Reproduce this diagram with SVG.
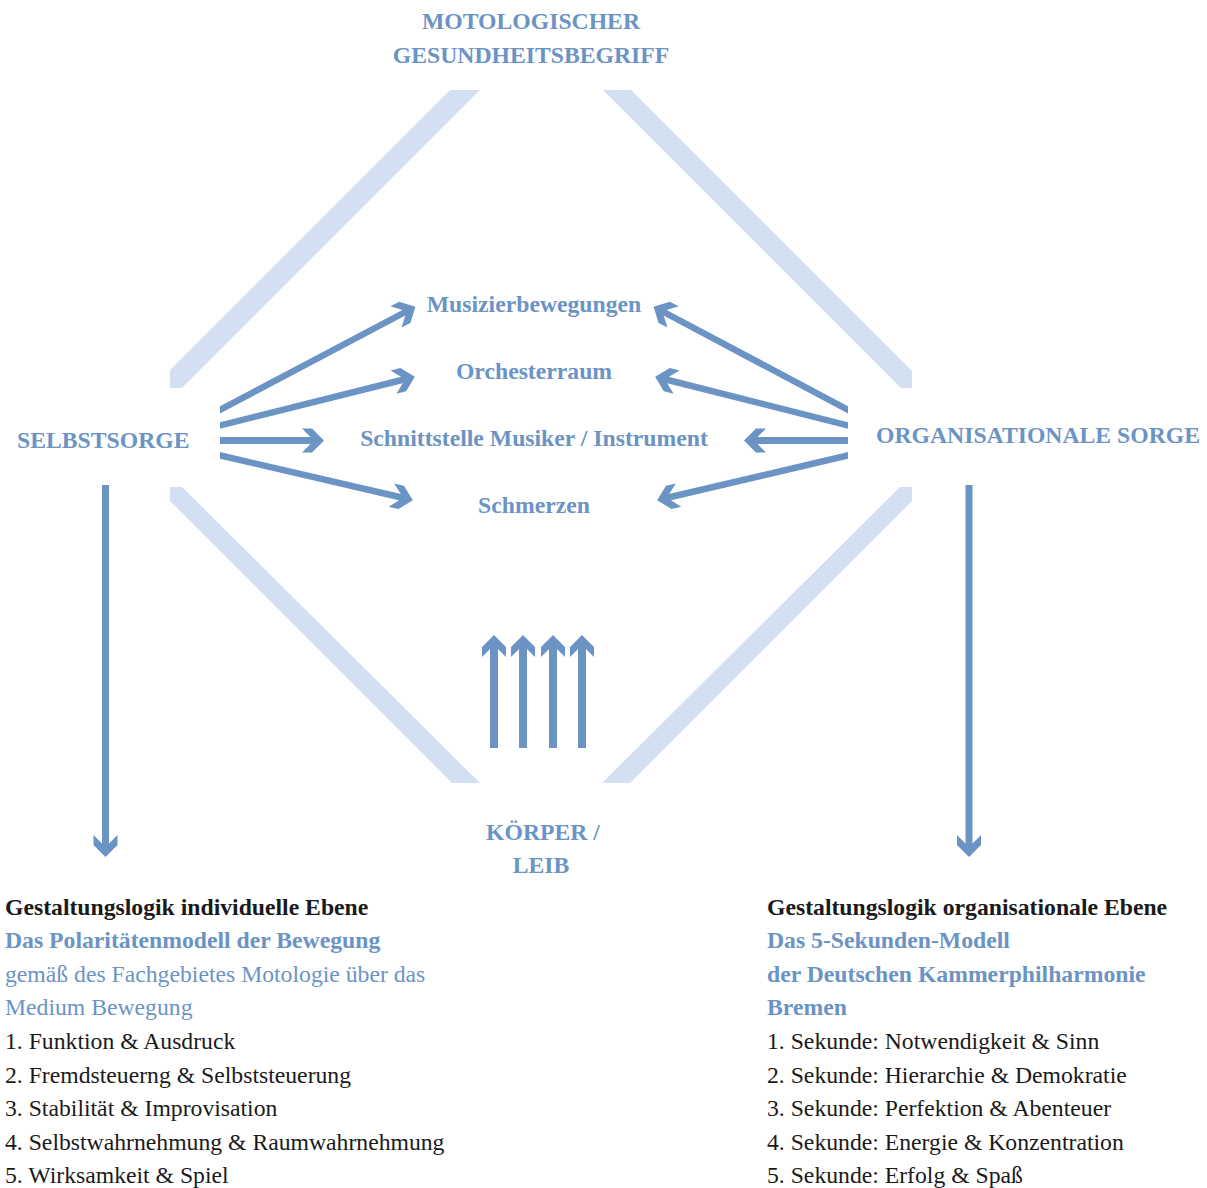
<svg xmlns="http://www.w3.org/2000/svg" width="1207" height="1188" viewBox="0 0 1207 1188">
  <style>
    text { font-family: "Liberation Serif", "Times New Roman", serif; font-size: 23.7px; }
    .head { fill: #6b93c4; font-weight: bold; }
    .blue { fill: #6b93c4; }
    .dark { fill: #1a1a1a; }
    .bold { font-weight: bold; }
    .band { fill: #d2e0f1; }
    .shaft { stroke: #6b93c4; fill: none; stroke-linecap: butt; }
  </style>
  <defs>
    <!-- barbed chevron arrowhead, tip placed slightly ahead of the shaft end -->
    <marker id="chev" markerUnits="userSpaceOnUse" viewBox="-25 -14 32 28" refX="0" refY="0" markerWidth="32" markerHeight="28" orient="auto" overflow="visible">
      <path d="M5,0 L-7,-12 L-17,-12 L-5,0 L-17,12 L-7,12 Z" fill="#6b93c4"/>
    </marker>
    <clipPath id="clipL"><rect x="220" y="0" width="987" height="1188"/></clipPath>
    <clipPath id="clipR"><rect x="0" y="0" width="848" height="1188"/></clipPath>
  </defs>

  <!-- light diamond frame -->
  <g id="frame">
    <polygon class="band" points="450,90 480,90 182,388 170,388 170,370"/>
    <polygon class="band" points="603,90 631,90 912,371 912,388 901,388"/>
    <polygon class="band" points="170,487 182,487 480,783 452,783 170,501"/>
    <polygon class="band" points="912,487 900,487 602,783 630,783 912,501"/>
  </g>

  <!-- nodes -->
  <g id="node-gesundheit">
    <text class="head" x="531" y="29" text-anchor="middle">MOTOLOGISCHER</text>
    <text class="head" x="531" y="63" text-anchor="middle">GESUNDHEITSBEGRIFF</text>
  </g>
  <g id="node-selbstsorge">
    <text class="head" x="17" y="448">SELBSTSORGE</text>
  </g>
  <g id="node-orgsorge">
    <text class="head" x="876" y="443">ORGANISATIONALE SORGE</text>
  </g>
  <g id="node-koerper">
    <text class="head" x="543" y="840" text-anchor="middle">KÖRPER /</text>
    <text class="head" x="541" y="873" text-anchor="middle">LEIB</text>
  </g>
  <g id="node-musizier">
    <text class="head" x="534" y="312" text-anchor="middle">Musizierbewegungen</text>
  </g>
  <g id="node-orchester">
    <text class="head" x="534" y="379" text-anchor="middle">Orchesterraum</text>
  </g>
  <g id="node-schnittstelle">
    <text class="head" x="534" y="446" text-anchor="middle">Schnittstelle Musiker / Instrument</text>
  </g>
  <g id="node-schmerzen">
    <text class="head" x="534" y="513" text-anchor="middle">Schmerzen</text>
  </g>

  <g id="node-individuell">
    <text class="dark bold" x="5" y="915">Gestaltungslogik individuelle Ebene</text>
    <text class="blue bold" x="5" y="948">Das Polaritätenmodell der Bewegung</text>
    <text class="blue" x="5" y="982">gemäß des Fachgebietes Motologie über das</text>
    <text class="blue" x="5" y="1015">Medium Bewegung</text>
    <text class="dark" x="5" y="1049">1. Funktion &amp; Ausdruck</text>
    <text class="dark" x="5" y="1083">2. Fremdsteuerng &amp; Selbststeuerung</text>
    <text class="dark" x="5" y="1116">3. Stabilität &amp; Improvisation</text>
    <text class="dark" x="5" y="1150">4. Selbstwahrnehmung &amp; Raumwahrnehmung</text>
    <text class="dark" x="5" y="1183">5. Wirksamkeit &amp; Spiel</text>
  </g>
  <g id="node-organisational">
    <text class="dark bold" x="767" y="915">Gestaltungslogik organisationale Ebene</text>
    <text class="blue bold" x="767" y="948">Das 5-Sekunden-Modell</text>
    <text class="blue bold" x="767" y="982">der Deutschen Kammerphilharmonie</text>
    <text class="blue bold" x="767" y="1015">Bremen</text>
    <text class="dark" x="767" y="1049">1. Sekunde: Notwendigkeit &amp; Sinn</text>
    <text class="dark" x="767" y="1083">2. Sekunde: Hierarchie &amp; Demokratie</text>
    <text class="dark" x="767" y="1116">3. Sekunde: Perfektion &amp; Abenteuer</text>
    <text class="dark" x="767" y="1150">4. Sekunde: Energie &amp; Konzentration</text>
    <text class="dark" x="767" y="1183">5. Sekunde: Erfolg &amp; Spaß</text>
  </g>

  <!-- connectors -->
  <g id="connectors">
    <g clip-path="url(#clipL)">
      <line class="shaft" stroke-width="6.5" x1="214" y1="413" x2="411" y2="309" marker-end="url(#chev)"/>
      <line class="shaft" stroke-width="6.5" x1="214" y1="427" x2="410" y2="378" marker-end="url(#chev)"/>
      <line class="shaft" stroke-width="7" x1="214" y1="440.5" x2="319" y2="440.5" marker-end="url(#chev)"/>
      <line class="shaft" stroke-width="6.5" x1="214" y1="454" x2="408" y2="499" marker-end="url(#chev)"/>
    </g>
    <g clip-path="url(#clipR)">
      <line class="shaft" stroke-width="6.5" x1="854" y1="413" x2="658" y2="309" marker-end="url(#chev)"/>
      <line class="shaft" stroke-width="6.5" x1="854" y1="427" x2="660" y2="378" marker-end="url(#chev)"/>
      <line class="shaft" stroke-width="7" x1="854" y1="440.5" x2="749" y2="440.5" marker-end="url(#chev)"/>
      <line class="shaft" stroke-width="6.5" x1="854" y1="454" x2="662" y2="499" marker-end="url(#chev)"/>
    </g>
    <line class="shaft" stroke-width="7" x1="105.5" y1="485" x2="105.5" y2="852" marker-end="url(#chev)"/>
    <line class="shaft" stroke-width="7" x1="969" y1="485" x2="969" y2="852" marker-end="url(#chev)"/>
    <line class="shaft" stroke-width="8" x1="494" y1="748" x2="494" y2="640" marker-end="url(#chev)"/>
    <line class="shaft" stroke-width="8" x1="523" y1="748" x2="523" y2="640" marker-end="url(#chev)"/>
    <line class="shaft" stroke-width="8" x1="553" y1="748" x2="553" y2="640" marker-end="url(#chev)"/>
    <line class="shaft" stroke-width="8" x1="582" y1="748" x2="582" y2="640" marker-end="url(#chev)"/>
  </g>
</svg>
